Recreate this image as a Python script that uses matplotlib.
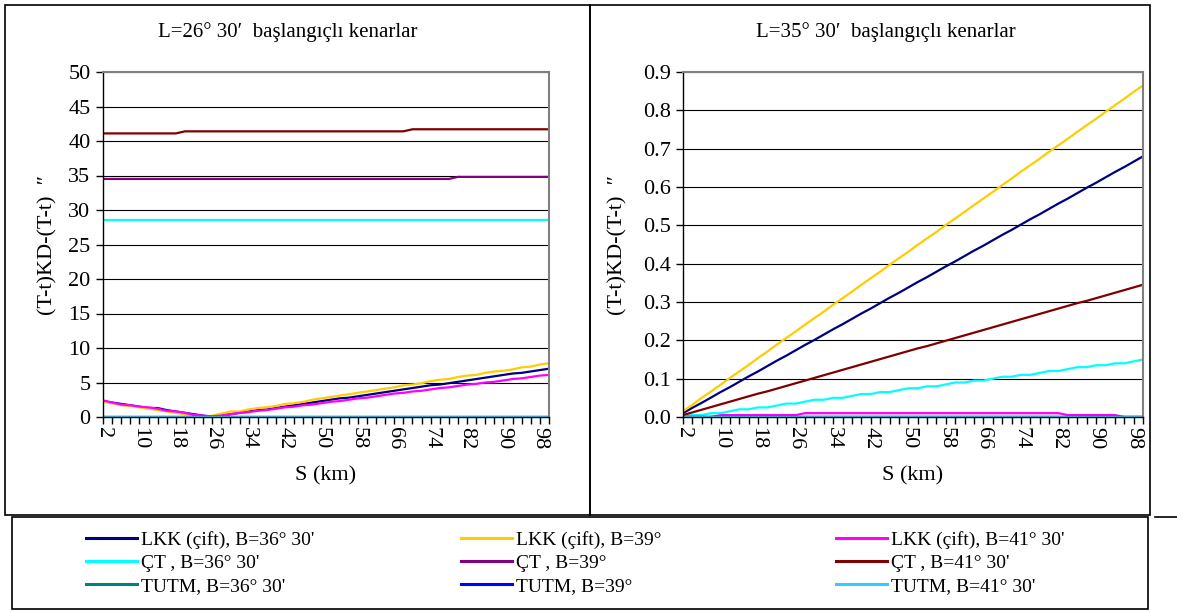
import matplotlib
matplotlib.use("Agg")
import matplotlib.pyplot as plt
from matplotlib.patches import Rectangle
from matplotlib.lines import Line2D

plt.rcParams["font.family"] = ["Liberation Serif", "DejaVu Serif"]

# ── Data ──────────────────────────────────────────────────────────────────────
S_KM = [2, 4, 6, 8, 10, 12, 14, 16, 18, 20, 22, 24, 26, 28, 30, 32, 34, 36, 38, 40,
        42, 44, 46, 48, 50, 52, 54, 56, 58, 60, 62, 64, 66, 68, 70, 72, 74, 76, 78, 80,
        82, 84, 86, 88, 90, 92, 94, 96, 98, 100]

# left panel: L = 26° 30'
left_lkk_36 = [2.3, 2.1, 1.9, 1.7, 1.5, 1.3, 1.3, 1.0, 0.8, 0.6, 0.4, 0.2, 0.0, 0.2, 0.4,
               0.6, 0.8, 1.0, 1.1, 1.3, 1.5, 1.7, 1.9, 2.1, 2.3, 2.5, 2.7, 2.8, 3.0, 3.2,
               3.4, 3.6, 3.8, 4.0, 4.2, 4.4, 4.6, 4.7, 4.9, 5.1, 5.3, 5.5, 5.7, 5.9, 6.1,
               6.3, 6.4, 6.6, 6.8, 7.0]
left_lkk_39 = [2.2, 2.0, 1.7, 1.6, 1.4, 1.2, 1.0, 0.8, 0.6, 0.4, 0.2, 0.0, 0.2, 0.5, 0.8,
               0.8, 1.1, 1.3, 1.4, 1.6, 1.9, 2.0, 2.2, 2.5, 2.7, 2.9, 3.1, 3.3, 3.5, 3.7,
               3.9, 4.1, 4.3, 4.6, 4.7, 4.9, 5.2, 5.4, 5.5, 5.8, 6.0, 6.1, 6.4, 6.6, 6.7,
               6.9, 7.2, 7.3, 7.6, 7.8]
left_lkk_41 = [2.4, 2.1, 1.8, 1.7, 1.5, 1.4, 1.2, 0.9, 0.8, 0.6, 0.3, 0.2, 0.1, 0.2, 0.4,
               0.6, 0.7, 0.9, 1.0, 1.2, 1.4, 1.5, 1.7, 1.8, 2.0, 2.2, 2.3, 2.5, 2.7, 2.8,
               3.0, 3.2, 3.4, 3.5, 3.7, 3.8, 4.0, 4.2, 4.3, 4.5, 4.7, 4.8, 5.0, 5.1, 5.3,
               5.5, 5.6, 5.8, 6.0, 6.1]
left_ct_36 = [28.6] * 50
left_ct_39 = [34.5] * 39 + [34.8] * 11
left_ct_41 = [41.1] * 9 + [41.4] * 25 + [41.7] * 16
left_tutm_36 = [0.0] * 50
left_tutm_39 = [0.0] * 50
left_tutm_41 = [0.0] * 50

# right panel: L = 35° 30'
right_lkk_36 = [0.010, 0.024, 0.037, 0.051, 0.065, 0.078, 0.092, 0.106, 0.119, 0.133,
                0.147, 0.160, 0.174, 0.188, 0.201, 0.215, 0.229, 0.242, 0.256, 0.270,
                0.283, 0.297, 0.311, 0.324, 0.338, 0.352, 0.365, 0.379, 0.393, 0.406,
                0.420, 0.434, 0.447, 0.461, 0.475, 0.488, 0.502, 0.516, 0.529, 0.543,
                0.557, 0.570, 0.584, 0.598, 0.611, 0.625, 0.639, 0.652, 0.666, 0.680]
right_lkk_39 = [0.015, 0.032, 0.050, 0.067, 0.084, 0.102, 0.119, 0.136, 0.154, 0.171,
                0.189, 0.206, 0.223, 0.241, 0.258, 0.275, 0.293, 0.310, 0.327, 0.345,
                0.362, 0.379, 0.397, 0.414, 0.431, 0.449, 0.466, 0.483, 0.501, 0.518,
                0.535, 0.553, 0.570, 0.587, 0.605, 0.622, 0.640, 0.657, 0.674, 0.692,
                0.709, 0.726, 0.744, 0.761, 0.778, 0.796, 0.813, 0.830, 0.848, 0.865]
right_lkk_41 = [0.0] * 4 + [0.005] * 9 + [0.01] * 28 + [0.005] * 6 + [0.0] * 3
right_ct_36 = [0.000, 0.005, 0.005, 0.010, 0.010, 0.015, 0.020, 0.020, 0.025, 0.025,
               0.030, 0.035, 0.035, 0.040, 0.045, 0.045, 0.050, 0.050, 0.055, 0.060,
               0.060, 0.065, 0.065, 0.070, 0.075, 0.075, 0.080, 0.080, 0.085, 0.090,
               0.090, 0.095, 0.095, 0.100, 0.105, 0.105, 0.110, 0.110, 0.115, 0.120,
               0.120, 0.125, 0.130, 0.130, 0.135, 0.135, 0.140, 0.140, 0.145, 0.150]
right_ct_39 = [0.0] * 50
right_ct_41 = [0.005, 0.012, 0.019, 0.026, 0.033, 0.040, 0.047, 0.054, 0.061, 0.067,
               0.074, 0.081, 0.088, 0.095, 0.102, 0.109, 0.116, 0.123, 0.130, 0.137,
               0.144, 0.151, 0.158, 0.165, 0.172, 0.179, 0.185, 0.192, 0.199, 0.206,
               0.213, 0.220, 0.227, 0.234, 0.241, 0.248, 0.255, 0.262, 0.269, 0.276,
               0.283, 0.290, 0.297, 0.303, 0.310, 0.317, 0.324, 0.331, 0.338, 0.345]
right_tutm_36 = [0.0] * 50
right_tutm_39 = [0.0] * 50
right_tutm_41 = [0.0] * 50

LABELS = ["LKK (çift), B=36° 30'", "LKK (çift), B=39°", "LKK (çift), B=41° 30'",
          "ÇT , B=36° 30'", "ÇT , B=39°", "ÇT , B=41° 30'",
          "TUTM, B=36° 30'", "TUTM, B=39°", "TUTM, B=41° 30'"]
COLORS = ["#000080", "#FFCC00", "#FF00FF",
          "#00FFFF", "#800080", "#800000",
          "#008080", "#0000FF", "#33CCFF"]

left_series = [left_lkk_36, left_lkk_39, left_lkk_41, left_ct_36, left_ct_39, left_ct_41,
               left_tutm_36, left_tutm_39, left_tutm_41]
right_series = [right_lkk_36, right_lkk_39, right_lkk_41, right_ct_36, right_ct_39,
                right_ct_41, right_tutm_36, right_tutm_39, right_tutm_41]

W, H = 1177, 612
fig = plt.figure(figsize=(W / 100, H / 100), dpi=100)


def px_box(x0, y0, x1, y1):
    # pixel box (top-left origin) -> figure fraction [left, bottom, width, height]
    return [x0 / W, 1 - y1 / H, (x1 - x0) / W, (y1 - y0) / H]


def panel(rect, series, ymax, ystep, fmt, title, title_x, ylab_x):
    ax = fig.add_axes(px_box(*rect))
    pos = list(range(len(S_KM)))
    for vals, col in zip(series, COLORS):
        ax.plot(pos, vals, color=col, lw=1.6, solid_joinstyle="miter")
    ax.set_xlim(0, len(S_KM) - 1)
    ax.set_ylim(0, ymax)
    n = int(round(ymax / ystep))
    yt = [i * ystep for i in range(n + 1)]
    ax.set_yticks(yt)
    ax.set_yticklabels([fmt.format(v) for v in yt], fontsize=16)
    ax.set_xticks(pos)
    ax.set_xticklabels([str(s) if i % 4 == 0 else "" for i, s in enumerate(S_KM)],
                       rotation=-90, fontsize=16)
    ax.tick_params(axis="x", length=5, width=1, direction="out", pad=2)
    ax.tick_params(axis="y", length=5, width=1, direction="out", pad=4)
    ax.grid(axis="y", color="black", lw=0.8)
    ax.set_axisbelow(True)
    for side in ("top", "right"):
        ax.spines[side].set_color("#808080")
        ax.spines[side].set_linewidth(1.5)
    ax.spines["left"].set_linewidth(1.0)
    ax.spines["bottom"].set_linewidth(1.0)
    fig.text(title_x / W, 1 - 32 / H, title, ha="center", va="center", fontsize=15)
    fig.text((rect[0] + rect[2]) / 2 / W, 1 - 476 / H, "S (km)",
             ha="center", va="center", fontsize=16)
    fig.text(ylab_x / W, 1 - 245 / H, "(T-t)KD-(T-t)  \u2033", rotation=90,
             ha="center", va="center", fontsize=16)
    return ax


panel((103, 72, 549, 417), left_series, 50, 5, "{:g}",
      "L=26° 30\u2032  başlangıçlı kenarlar", 288, 48)
panel((683, 72, 1143, 417), right_series, 0.9, 0.1, "{:.1f}",
      "L=35° 30\u2032  başlangıçlı kenarlar", 886, 618)

# frames round panels and legend
for x0, y0, x1, y1 in [(5, 5, 590, 515), (590, 5, 1150, 515), (12, 517, 1148, 609)]:
    fig.patches.append(Rectangle((x0 / W, 1 - y1 / H), (x1 - x0) / W, (y1 - y0) / H,
                                 transform=fig.transFigure, fill=False,
                                 edgecolor="black", lw=1.2))
fig.lines.append(Line2D([1155 / W, 1.0], [1 - 517 / H] * 2, transform=fig.transFigure,
                        color="black", lw=1.2))

# legend: three columns, each drawn as its own frameless legend
col_x = [86, 461, 836]
for c in range(3):
    handles = [Line2D([], [], color=COLORS[r * 3 + c], lw=2.2) for r in range(3)]
    labels = [LABELS[r * 3 + c] for r in range(3)]
    fig.legend(handles, labels, loc="center left",
               bbox_to_anchor=(col_x[c] / W, 1 - 563 / H), frameon=False,
               fontsize=14, handlelength=2.6, handletextpad=0.25,
               labelspacing=0.28, borderpad=0, borderaxespad=0)

fig.savefig("out.png", dpi=100)
